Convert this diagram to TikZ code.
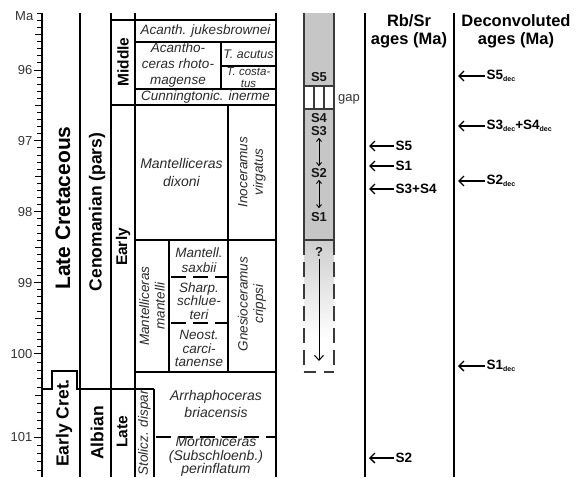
\documentclass[tikz,border=0pt]{standalone}
\usepackage{fontspec}
\setmainfont{Liberation Sans}
\usetikzlibrary{arrows.meta,calc}
\definecolor{colgray}{HTML}{C6C6C6}
\definecolor{spc}{HTML}{2A2A2A}
\definecolor{boxln}{HTML}{3A3A3A}
\newcommand{\dsub}[1]{#1\raisebox{-2.5pt}{\fontsize{7}{7}\selectfont dec}}
\begin{document}
\begin{tikzpicture}[x=1pt,y=-1pt,
  tbl/.style={line width=1.6pt, black},
  tbldash/.style={line width=1.6pt, black, dash pattern=on 15pt off 7pt},
  spec/.style={font=\itshape\fontsize{13.5}{15.5}\selectfont, text=spc, align=center, inner sep=0pt},
  specs/.style={font=\itshape\fontsize{12.5}{12}\selectfont, text=spc, align=center, inner sep=0pt},
  bigl/.style={font=\bfseries\fontsize{21}{21}\selectfont, rotate=90, inner sep=0pt},
  midl/.style={font=\bfseries\fontsize{17.5}{18}\selectfont, rotate=90, inner sep=0pt},
  subl/.style={font=\bfseries\fontsize{15.5}{16}\selectfont, rotate=90, inner sep=0pt},
  tick/.style={font=\fontsize{13}{13}\selectfont, text=black!80, anchor=east, inner sep=0.5pt},
  head/.style={font=\bfseries\fontsize{16.5}{18}\selectfont, align=center, inner sep=0pt},
  slab/.style={font=\bfseries\fontsize{13.5}{13.5}\selectfont, anchor=west, inner sep=1.5pt},
  glab/.style={font=\bfseries\fontsize{13}{11}\selectfont, inner sep=0pt, text=black!90},
  arr/.style={-{Straight Barb[length=5pt,width=10pt]}, line width=1.3pt},
  dbl/.style={{Straight Barb[length=3pt,width=5pt]}-{Straight Barb[length=3pt,width=5pt]}, line width=0.9pt},
  col/.style={draw=boxln, line width=1.3pt}]
\useasboundingbox (0,0) rectangle (577,477);

% ---- Age axis ----
\draw[line width=2pt] (41.5,13) -- (41.5,477);
\foreach \k in {952,...,1014}{
  \pgfmathsetmacro\yy{\k<=1000 ? 70+(\k-960)*7.09 : 354+(\k-1000)*8.3}
  \pgfmathsetmacro\len{mod(\k,10)==0 ? 8 : (mod(\k,5)==0 ? 6.5 : 4.5)}
  \draw[line width=1pt] (41.5-\len,\yy) -- (41.5,\yy);
}
\node[tick] (tMa) at (34,16) {Ma};
\node[tick] (t96) at (33,70) {96};
\node[tick] (t97) at (33,141) {97};
\node[tick] (t98) at (33,212) {98};
\node[tick] (t99) at (33,283) {99};
\node[tick] (t100) at (33,354) {100};
\node[tick] (t101) at (33,437) {101};

% ---- Stratigraphic table lines ----
\draw[tbl] (80,13) -- (80,477);
\draw[tbl] (111,13) -- (111,477);
\draw[tbl] (135,13) -- (135,477);
\draw[tbl] (276,13) -- (276,477);
\draw[tbl] (111,20) -- (276,20);
\draw[tbl] (135,42) -- (276,42);
\draw[tbl] (221,42) -- (221,89);
\draw[tbl] (221,66) -- (276,66);
\draw[tbl] (135,89) -- (276,89);
\draw[tbl] (111,105) -- (276,105);
\draw[tbl] (228,105) -- (228,372);
\draw[tbl] (135,240) -- (276,240);
\draw[tbl] (169,240) -- (169,372);
\draw[tbldash] (171,277) -- (228,277);
\draw[tbldash] (171,323) -- (228,323);
\draw[tbl] (135,372) -- (276,372);
\draw[tbl] (41.5,389) -- (52,389) -- (52,371) -- (77,371) -- (77,389) -- (154,389);
\draw[tbl] (154,389) -- (154,477);
\draw[tbldash] (156,437) -- (276,437);

% ---- Chrono labels ----
\node[bigl] (lateK) at (63,208) {Late Cretaceous};
\node[midl] (ceno) at (97,212) {Cenomanian (pars)};
\node[subl] (middle) at (123,62) {Middle};
\node[subl] (early) at (123,247) {Early};
\node[midl] (earlyK) at (64,423) {Early Cret.};
\node[midl] (albian) at (97,433) {Albian};
\node[subl] (late) at (122,432) {Late};

% ---- Biozones ----
\node[spec] (jukes) at (205.5,31) {Acanth. jukesbrownei};
\node[spec, font=\itshape\fontsize{13.5}{16}\selectfont] (rhoto) at (178,65) {Acantho-\\ceras rhoto-\\magense};
\node[specs] (acutus) at (248.5,54) {T. acutus};
\node[specs, font=\itshape\fontsize{11.5}{11.5}\selectfont] (costatus) at (248.5,77.5) {T. costa-\\tus};
\node[spec] (inerme) at (205.5,97) {Cunningtonic. inerme};
\node[spec, font=\itshape\fontsize{14}{18}\selectfont] (dixoni) at (181.5,172) {Mantelliceras\\dixoni};
\node[spec, rotate=90] (virg) at (252,172) {Inoceramus\\virgatus};
\node[spec, rotate=90] (mant) at (152,306) {Mantelliceras\\mantelli};
\node[spec] (saxbii) at (199,260) {Mantell.\\saxbii};
\node[spec, font=\itshape\fontsize{13.5}{13.5}\selectfont] (sharp) at (199,301) {Sharp.\\schlue-\\teri};
\node[spec, font=\itshape\fontsize{13.5}{13.5}\selectfont] (neost) at (199,348.5) {Neost.\\carci-\\tanense};
\node[spec, rotate=90] (gnes) at (252,304) {Gnesioceramus\\crippsi};
\node[spec, font=\itshape\fontsize{14}{17}\selectfont] (arrha) at (216,403.5) {Arrhaphoceras\\briacensis};
\node[spec, rotate=90] (stol) at (144.5,433) {Stolicz. dispar};
\node[spec, font=\itshape\fontsize{14}{13.5}\selectfont] (morto) at (216,456.5) {Mortoniceras\\(Subschloenb.)\\perinflatum};

% ---- Sample column ----
\fill[colgray] (304,13) rectangle (334,86);
\draw[col] (304,13) -- (304,86) -- (334,86) -- (334,13);
\draw[col] (304,86) -- (304,109);
\draw[col] (314,86) -- (314,109);
\draw[col] (324,86) -- (324,109);
\draw[col] (334,86) -- (334,109);
\filldraw[fill=colgray, col] (304,109) rectangle (334,240);
\shade[top color=colgray!85, bottom color=white] (304.7,240.7) rectangle (333.3,340);
\draw[col, dash pattern=on 15pt off 7pt] (304,240) -- (304,372);
\draw[col, dash pattern=on 15pt off 7pt] (334,240) -- (334,372);
\draw[col, dash pattern=on 12pt off 8pt] (304,372) -- (334,372);
\draw[col] (304,240) -- (334,240);

\node[glab] (gS5) at (319,77) {S5};
\node[glab] (gS4) at (319,118) {S4};
\node[glab] (gS3) at (319,131) {S3};
\node[glab] (gS2) at (319,173) {S2};
\node[glab] (gS1) at (319,217) {S1};
\node[glab] (gQ) at (319,252) {?};
\node[font=\fontsize{13}{13}\selectfont, anchor=west, inner sep=0pt, text=black!80] (gap) at (338,99) {gap};
\draw[dbl, shorten <=2pt, shorten >=2pt] (gS3.south) -- (gS2.north);
\draw[dbl, shorten <=2pt, shorten >=4pt] (gS2.south) -- (gS1.north);
\coordinate (qEnd) at (320,361);
\draw[-{Straight Barb[length=5pt,width=9pt]}, line width=1pt, shorten <=2pt] (gQ.south) -- (gQ.south |- qEnd);

% ---- Rb/Sr and deconvoluted columns ----
\draw[line width=1.6pt] (365,13) -- (365,477);
\draw[line width=1.8pt] (454,13) -- (454,477);
\node[head] (hRb) at (409,31) {Rb/Sr\\ages (Ma)};
\node[head] (hDec) at (516,31) {Deconvoluted\\ages (Ma)};

\coordinate (r5) at (369,146);
\coordinate (r1) at (369,166);
\coordinate (r34) at (369,189);
\coordinate (r2) at (369,458);
\node[slab] (lS5) at (394,146) {S5};
\node[slab] (lS1) at (394,166) {S1};
\node[slab] (lS34) at (394,189) {S3+S4};
\node[slab] (lS2) at (394,458) {S2};
\draw[arr] (lS5.west) -- (r5);
\draw[arr] (lS1.west) -- (r1);
\draw[arr] (lS34.west) -- (r34);
\draw[arr] (lS2.west) -- (r2);

\coordinate (d5) at (458,76);
\coordinate (d34) at (458,126);
\coordinate (d2) at (458,181);
\coordinate (d1) at (458,366);
\node[slab] (dS5) at (485,76) {\dsub{S5}};
\node[slab] (dS34) at (485,126) {\dsub{S3}+\dsub{S4}};
\node[slab] (dS2) at (485,181) {\dsub{S2}};
\node[slab] (dS1) at (485,366) {\dsub{S1}};
\draw[arr] (dS5.west) -- (d5);
\draw[arr] (dS34.west) -- (d34);
\draw[arr] (dS2.west) -- (d2);
\draw[arr] (dS1.west) -- (d1);
\end{tikzpicture}
\end{document}
